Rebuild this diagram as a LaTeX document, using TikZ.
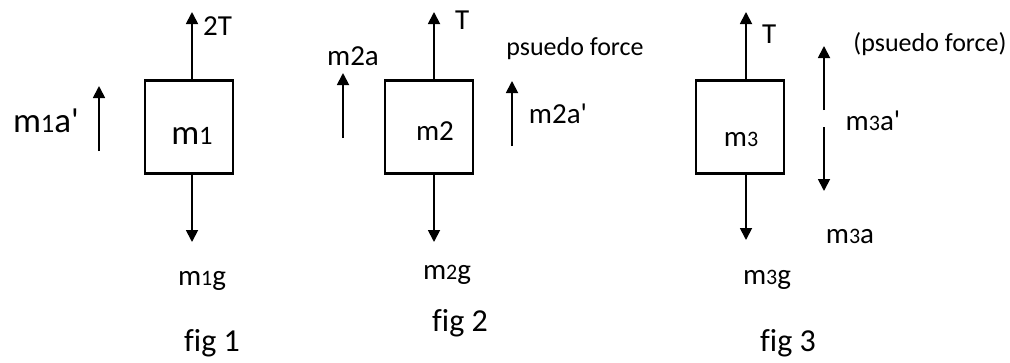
\documentclass[tikz,border=0pt]{standalone}
\usepackage{fontspec}
\setmainfont{Carlito}[Ligatures=NoCommon]
\usetikzlibrary{arrows.meta}
\newcommand\smd[1]{\scalebox{0.76}{#1}}
\newcommand\aq{\textquotesingle}
\begin{document}
\begin{tikzpicture}[x=1pt,y=-1pt,
  massbox/.style={draw, line width=2.8pt, minimum width=88pt, minimum height=93pt, inner sep=0pt},
  force/.style={line width=1.8pt, -{Triangle[length=12pt,width=12pt]}},
  txt/.style={inner sep=0pt, anchor=base},
  lbl/.style={txt, font=\fontsize{29}{34}\selectfont},
  ps/.style={txt, font=\fontsize{26}{30}\selectfont},
  big/.style={txt, font=\fontsize{35}{40}\selectfont},
  fig/.style={txt, font=\fontsize{32}{38}\selectfont}]
\useasboundingbox (0,0) rectangle (1010,362);
% fig 1
\node[massbox] (b1) at (189,127) {};
\node[big] (m1) at (192,144) {m\smd{1}};
\coordinate (t1) at (192,12);
\coordinate (g1) at (192,242);
\draw[force] (b1.north -| t1) -- (t1);
\draw[force] (b1.south -| g1) -- (g1);
\node[lbl, anchor=base west] (l2T) at (203,35) {2T};
\node[lbl] (lm1g) at (202,285) {m\smd{1}g};
\node[fig] (f1) at (212,351) {fig 1};
\node[big] (lm1a) at (46,132) {m\smd{1}a\aq};
\coordinate (a1s) at (99,151);
\coordinate (a1e) at (99,86);
\draw[force] (a1s) -- (a1e);
% fig 2
\node[massbox] (b2) at (429,127) {};
\node[lbl] (m2) at (435,140) {m2};
\coordinate (t2) at (434,12);
\coordinate (g2) at (434,242);
\draw[force] (b2.north -| t2) -- (t2);
\draw[force] (b2.south -| g2) -- (g2);
\node[lbl, anchor=base west] (lT2) at (455,29) {T};
\node[lbl] (lm2g) at (447,279) {m\smd{2}g};
\node[fig] (f2) at (460,331) {fig 2};
\node[lbl] (lm2a) at (353,65) {m2a};
\coordinate (a2s) at (343,138);
\coordinate (a2e) at (343,73);
\draw[force] (a2s) -- (a2e);
\node[ps] (ps2) at (575,55) {psuedo force};
\coordinate (p2s) at (512,146);
\coordinate (p2e) at (512,81);
\draw[force] (p2s) -- (p2e);
\node[lbl] (lm2ap) at (558,123) {m2a\aq};
% fig 3
\node[massbox] (b3) at (740,127) {};
\node[lbl] (m3) at (741,146) {m\smd{3}};
\coordinate (t3) at (746,12);
\coordinate (g3) at (746,240);
\draw[force] (b3.north -| t3) -- (t3);
\draw[force] (b3.south -| g3) -- (g3);
\node[lbl, anchor=base west] (lT3) at (762,43) {T};
\node[lbl] (lm3g) at (767,284) {m\smd{3}g};
\node[fig] (f3) at (788,351) {fig 3};
\node[ps] (ps3) at (930,51) {(psuedo force)};
\coordinate (u3s) at (824,110);
\coordinate (u3e) at (824,46);
\draw[force] (u3s) -- (u3e);
\coordinate (d3s) at (824,127);
\coordinate (d3e) at (824,191);
\draw[force] (d3s) -- (d3e);
\node[lbl] (lm3ap) at (873,130) {m\smd{3}a\aq};
\node[lbl] (lm3a) at (850,243) {m\smd{3}a};
\end{tikzpicture}
\end{document}
